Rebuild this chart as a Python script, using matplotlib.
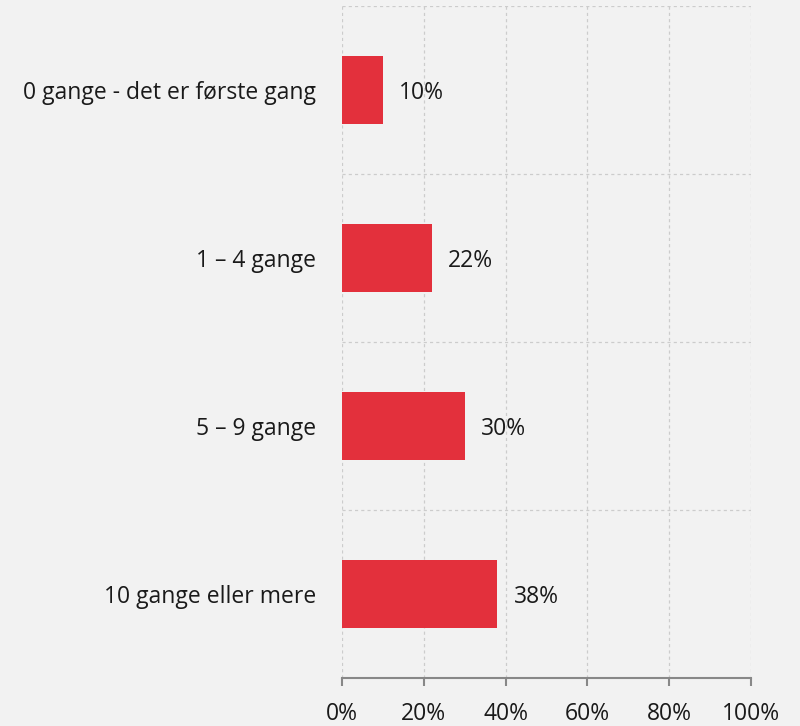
import matplotlib.pyplot as plt
import numpy as np

categories = ['0 gange - det er første gang', '1 – 4 gange', '5 – 9 gange', '10 gange eller mere']
values = [10, 22, 30, 38]
xticks = [0, 20, 40, 60, 80, 100]

plt.rcParams['font.family'] = ['Open Sans', 'DejaVu Sans']

bg = '#f2f2f2'
fig = plt.figure(figsize=(8, 7.26), dpi=100, facecolor=bg)
ax = fig.add_axes([342/800, 1 - 678/726, (751 - 342)/800, (678 - 6)/726])
ax.set_facecolor(bg)

y = np.arange(len(categories))
ax.barh(y, values, height=0.4, color='#e3303c', zorder=3)
for yi, v in zip(y, values):
    ax.text(v + 4, yi + 0.02, f'{v}%', va='center', ha='left', fontsize=16.5, color='#1a1a1a')

ax.set_xlim(0, 100)
ax.set_ylim(len(categories) - 0.5, -0.5)
ax.set_xticks(xticks)
ax.set_xticklabels([f'{t}%' for t in xticks], fontsize=16.5, color='#1a1a1a')
ax.set_yticks(y)
ax.set_yticklabels(categories, fontsize=16.5, color='#1a1a1a')
ax.tick_params(axis='y', length=0, pad=18.5)
ax.tick_params(axis='x', length=6, width=1.5, color='#888888', pad=11)

# grid
for t in xticks:
    ax.axvline(t, color='#cccccc', linestyle=(0, (2.5, 2.5)), linewidth=0.9, zorder=1)
for b in np.arange(-0.5, len(categories) - 0.5, 1):
    ax.axhline(b, color='#cccccc', linestyle=(0, (2.5, 2.5)), linewidth=0.9, zorder=1)

for s in ['top', 'right', 'left']:
    ax.spines[s].set_visible(False)
ax.spines['bottom'].set_color('#888888')
ax.spines['bottom'].set_linewidth(1.5)

fig.savefig('out.png', dpi=100, facecolor=bg)
